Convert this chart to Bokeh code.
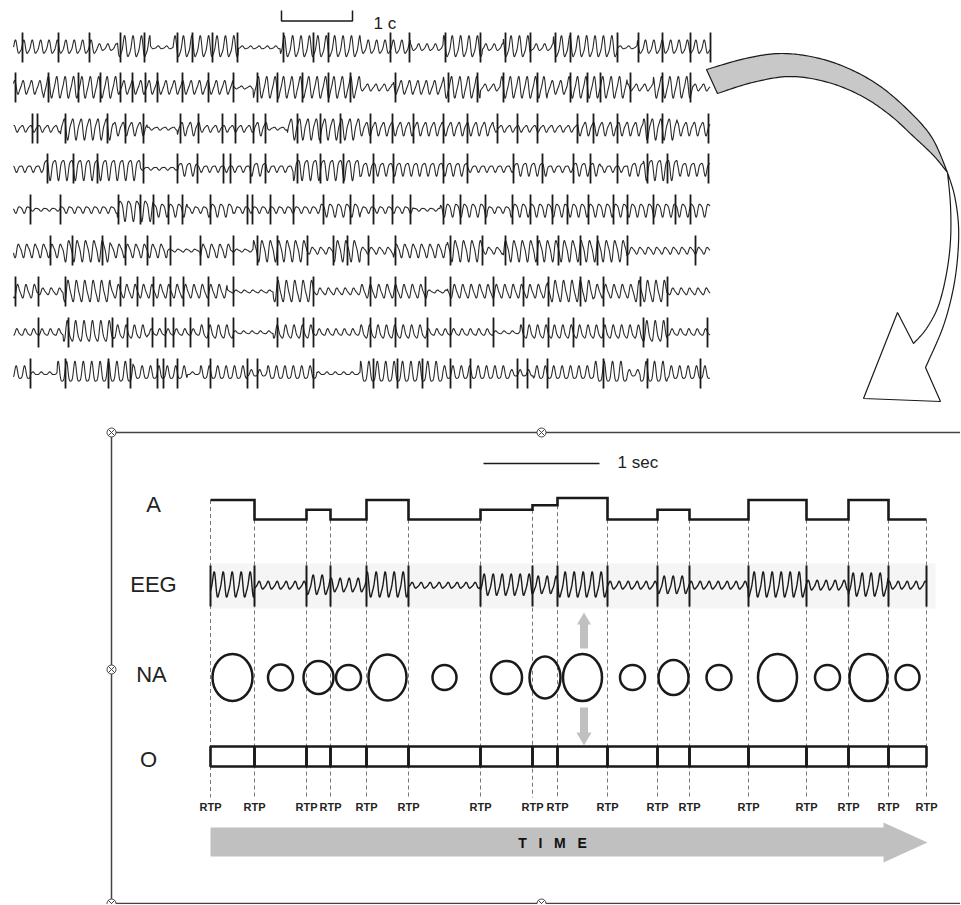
import numpy as np
from bokeh.plotting import figure
from bokeh.models import Range1d
from bokeh.core.properties import value
from bokeh.embed import file_html
from bokeh.resources import INLINE

# ---------------- data: lower panel ----------------
rtp_bounds = [210, 254, 306, 330, 366, 408, 480, 532, 557, 607, 657, 689, 748, 806, 848, 888, 926]
a_levels = [3, 0, 1.5, 0, 3, 0, 1.5, 2.2, 3.3, 0, 1.5, 0, 3, 0, 3, 0]
eeg_lower_amp = [13, 4, 10, 7, 13, 3, 11, 9, 13, 4, 9, 4, 13, 5, 12, 4]
na_width = [40, 25, 30, 25, 38, 24, 31, 31, 39, 25, 30, 25, 39, 25, 38, 24]
na_height = [47, 26, 33, 25, 46, 25, 33, 42, 47, 25, 35, 25, 47, 25, 47, 25]
row_labels = ["A", "EEG", "NA", "O"]
scale_label = "1 sec"
rtp_label = "RTP"
time_label = "T\u00a0\u00a0\u00a0I\u00a0\u00a0\u00a0M\u00a0\u00a0\u00a0E"

# ---------------- data: top EEG page ----------------
top_rows_y = [47, 87, 128, 168, 209, 250, 291, 332, 373]
row_bounds = [
    [13, 97, 117, 150, 173, 238, 280, 360, 410, 443, 482, 503, 530, 553, 617, 637, 710],
    [13, 43, 117, 173, 233, 253, 360, 393, 443, 480, 500, 547, 567, 627, 653, 693, 710],
    [13, 60, 113, 147, 177, 200, 253, 267, 287, 360, 493, 577, 643, 677, 710],
    [13, 43, 140, 177, 197, 250, 267, 293, 360, 393, 467, 513, 547, 573, 600, 627, 643, 677, 710],
    [13, 30, 60, 117, 153, 187, 207, 233, 320, 360, 413, 440, 487, 510, 710],
    [13, 63, 110, 167, 200, 230, 253, 307, 333, 360, 393, 447, 483, 503, 627, 710],
    [13, 37, 63, 110, 227, 273, 313, 360, 427, 447, 547, 593, 633, 667, 710],
    [13, 63, 113, 147, 200, 233, 273, 313, 360, 427, 493, 520, 640, 667, 710],
    [13, 30, 57, 133, 187, 200, 247, 267, 317, 360, 443, 510, 533, 593, 627, 640, 667, 710],
]
row_amps = [
    [2, 1, 3, 0, 3, 0, 3, 2, 1, 3, 1, 3, 1, 3, 0, 2],
    [2, 3, 2, 2, 0, 3, 1, 2, 3, 1, 3, 2, 3, 1, 3, 1],
    [1, 3, 2, 0, 2, 1, 2, 0, 3, 2, 1, 2, 3, 2],
    [1, 3, 0, 2, 1, 2, 1, 3, 2, 2, 1, 2, 1, 2, 1, 2, 3, 2],
    [1, 0, 1, 3, 2, 1, 2, 1, 2, 1, 0, 2, 1, 2],
    [2, 3, 2, 0, 2, 0, 3, 1, 3, 1, 2, 3, 1, 3, 1],
    [2, 1, 3, 2, 0, 3, 1, 2, 0, 2, 3, 2, 3, 1],
    [1, 3, 2, 1, 2, 0, 2, 1, 2, 1, 0, 2, 3, 1],
    [2, 0, 3, 2, 0, 2, 1, 2, 0, 3, 2, 1, 2, 3, 1, 3, 2],
]
row_spikes = [
    [22, 58, 89, 120, 144, 177, 192, 212, 237, 283, 313, 328, 390, 409, 445, 480, 505, 530, 555, 570, 617, 638, 662, 690, 710],
    [15, 48, 78, 100, 120, 132, 145, 157, 182, 208, 233, 257, 277, 302, 328, 350, 395, 448, 477, 503, 537, 570, 587, 600, 630, 662, 690],
    [32, 37, 65, 107, 125, 143, 180, 198, 222, 235, 253, 265, 297, 320, 340, 370, 392, 413, 443, 467, 497, 517, 537, 577, 593, 617, 647, 662, 708],
    [47, 73, 97, 143, 177, 197, 223, 230, 250, 265, 297, 320, 343, 373, 393, 443, 467, 513, 542, 573, 590, 617, 647, 667, 708],
    [30, 60, 118, 140, 153, 168, 182, 210, 247, 252, 270, 293, 323, 350, 373, 392, 410, 443, 460, 485, 512, 530, 552, 567, 588, 613, 627, 653, 675, 690],
    [50, 72, 102, 125, 147, 170, 200, 233, 257, 277, 307, 333, 347, 368, 395, 450, 482, 505, 537, 558, 580, 597, 627, 695],
    [15, 38, 65, 120, 137, 153, 170, 183, 208, 233, 277, 313, 370, 395, 425, 450, 493, 523, 548, 580, 603, 640, 667],
    [38, 68, 112, 127, 152, 165, 173, 190, 208, 233, 277, 303, 313, 370, 395, 427, 450, 493, 523, 548, 573, 603, 643, 667, 707],
    [30, 65, 108, 130, 157, 163, 177, 210, 247, 257, 313, 373, 397, 422, 450, 470, 517, 527, 547, 603, 647, 700],
]
top_scale_label = "1 c"

# ---------------- figure ----------------
W, H = 960, 904
p = figure(width=W, height=H, x_range=Range1d(0, W), y_range=Range1d(H, 0),
           output_backend="svg", toolbar_location=None, min_border=0,
           x_axis_location=None, y_axis_location=None)
p.grid.visible = False
p.outline_line_color = None
p.background_fill_color = "white"
p.border_fill_color = "white"

FONT = value("Liberation Sans")
INK = "#1a1a1a"

# ---------- top EEG traces ----------
AMP = {0: 1.5, 1: 3.5, 2: 7.0, 3: 11.0}


def wave(bounds, amps, yc, amp_map, period, phase=0.0, step=0.5):
    xs, ys = [], []
    for i, a in enumerate(amps):
        x = np.arange(bounds[i], bounds[i + 1], step)
        amp = amp_map(a)
        y = yc + amp * (np.sin(2 * np.pi * x / period + phase)
                        + 0.25 * np.sin(4 * np.pi * x / period + 0.8 + phase)) / 1.1
        xs.append(x)
        ys.append(y)
    return np.concatenate(xs), np.concatenate(ys)


for k, yc in enumerate(top_rows_y):
    xw, yw = wave(row_bounds[k], row_amps[k], yc, lambda a: AMP[a], 8.4, phase=0.7 * k)
    p.line(xw, yw, line_color="#2a2a2a", line_width=1.1)
    sx = row_spikes[k]
    p.segment(x0=sx, y0=[yc - 15] * len(sx), x1=sx, y1=[yc + 15] * len(sx),
              line_color=INK, line_width=1.8)

# scale bracket "1 c"
p.line([281, 281, 352, 352], [10, 20.5, 20.5, 10], line_color=INK, line_width=1.5)
p.text(x=[373], y=[23], text=[top_scale_label], text_font=FONT, text_font_size=value("17px"),
       text_color=INK, text_align="left", text_baseline="middle")


# ---------- curved block arrow ----------
def smooth(pts, n=14):
    pts = np.asarray(pts, float)
    P = np.vstack([pts[0], pts, pts[-1]])
    out = []
    for i in range(1, len(P) - 2):
        p0, p1, p2, p3 = P[i - 1], P[i], P[i + 1], P[i + 2]
        for t in np.linspace(0, 1, n, endpoint=False):
            t2, t3 = t * t, t * t * t
            out.append(0.5 * ((2 * p1) + (-p0 + p2) * t + (2 * p0 - 5 * p1 + 4 * p2 - p3) * t2
                              + (-p0 + 3 * p1 - 3 * p2 + p3) * t3))
    out.append(P[-2])
    return np.array(out)


gray_outer = smooth([(706, 69), (745, 58), (780, 53), (815, 57), (848, 68), (880, 86),
                     (910, 112), (932, 138), (947, 172)])
gray_inner = smooth([(717, 93), (752, 82), (790, 76), (828, 82), (862, 96), (890, 115),
                     (913, 136), (933, 155), (947, 172)])
g = np.vstack([gray_outer, gray_inner[::-1]])
p.patch(g[:, 0], g[:, 1], fill_color="#c8c8c8", line_color=INK, line_width=1.2)

white_right = smooth([(947, 172), (954, 195), (958, 225), (957, 258), (952, 292),
                      (942, 328), (925, 367)])
white_left = smooth([(947, 172), (950, 205), (950, 240), (946, 273), (938, 305),
                     (926, 328), (913, 343)])
head = np.array([(897, 312), (863, 398), (940, 401)])
wpoly = np.vstack([white_left, head, white_right[::-1]])
p.patch(wpoly[:, 0], wpoly[:, 1], fill_color="white", line_color=INK, line_width=1.2)

# ---------- lower panel ----------
b = np.array(rtp_bounds, float)
mids = (b[:-1] + b[1:]) / 2
A_BASE, A_SCALE = 519.0, 6.5
ya = [A_BASE - A_SCALE * v for v in a_levels]

# faint band behind EEG
p.quad(left=[b[0]], right=[b[-1] + 9], top=[563], bottom=[608], fill_color="#f5f5f5", line_color=None)

# dashed RTP lines
dash_top = []
for i in range(len(b)):
    cand = []
    if i > 0:
        cand.append(ya[i - 1])
    if i < len(ya):
        cand.append(ya[i])
    dash_top.append(max(cand))
p.segment(x0=b, y0=dash_top, x1=b, y1=[797] * len(b), line_color="#777777",
          line_width=1, line_dash="4 3")

# A trace
ax, ay = [], []
for i, v in enumerate(ya):
    ax += [b[i], b[i + 1]]
    ay += [v, v]
p.line(ax, ay, line_color=INK, line_width=2.6, line_join="miter")

# lower EEG
EEG_Y = 585
amp_lookup = dict(enumerate(eeg_lower_amp))
xw, yw = wave(list(b), list(range(len(eeg_lower_amp))), EEG_Y, lambda i: amp_lookup[i], 9.0, phase=0.3)
p.line(xw, yw, line_color=INK, line_width=1.4)
p.segment(x0=b, y0=[EEG_Y - 20] * len(b), x1=b, y1=[EEG_Y + 21] * len(b), line_color=INK, line_width=2)

# NA ellipses
p.ellipse(x=mids, y=[677] * len(mids), width=na_width, height=na_height,
          fill_color=None, line_color=INK, line_width=2.5)

# O boxes
p.quad(left=b[:-1], right=b[1:], top=[746] * len(mids), bottom=[766] * len(mids),
       fill_color=None, line_color=INK, line_width=2.6)

# RTP labels
p.text(x=b, y=[806] * len(b), text=[rtp_label] * len(b), text_font=FONT,
       text_font_size=value("11px"), text_font_style="bold", text_color="#222222",
       text_align="center", text_baseline="middle")

# TIME arrow
p.patch([210, 883, 883, 927, 883, 883, 210], [827, 827, 822, 842, 862, 856, 856],
        fill_color="#c0c0c0", line_color=None)
p.text(x=[552], y=[842], text=[time_label], text_font=FONT, text_font_size=value("14px"),
       text_font_style="bold", text_color="#111111", text_align="center", text_baseline="middle")

# small gray arrows
p.patch([583.5, 590.5, 587.5, 587.5, 579.5, 579.5, 576.5],
        [612, 624, 624, 648, 648, 624, 624], fill_color="#c0c0c0", line_color=None)
p.patch([583.5, 591, 587.5, 587.5, 579.5, 579.5, 576],
        [745, 732, 732, 707, 707, 732, 732], fill_color="#c0c0c0", line_color=None)

# row labels
p.text(x=[153, 153, 151, 148], y=[504, 584, 674, 759], text=row_labels, text_font=FONT,
       text_font_size=value("22px"), text_color="#222222", text_align="center",
       text_baseline="middle")

# 1 sec scale
p.line([483, 599], [463, 463], line_color=INK, line_width=1.3)
p.text(x=[617], y=[462], text=[scale_label], text_font=FONT, text_font_size=value("17px"),
       text_color="#222222", text_align="left", text_baseline="middle")

# frame
FR = "#444444"
p.line([111, 960], [432, 432], line_color=FR, line_width=1.5)
p.line([111, 111], [432, 903], line_color=FR, line_width=1.5)
p.line([111, 960], [903, 903], line_color=FR, line_width=1.5)
p.scatter(x=[111, 541, 111, 111, 541], y=[432, 432, 669, 903, 903], marker="circle_x",
          size=9, fill_color="white", line_color=FR, line_width=1)

open("out.html", "w").write(file_html(p, INLINE))
